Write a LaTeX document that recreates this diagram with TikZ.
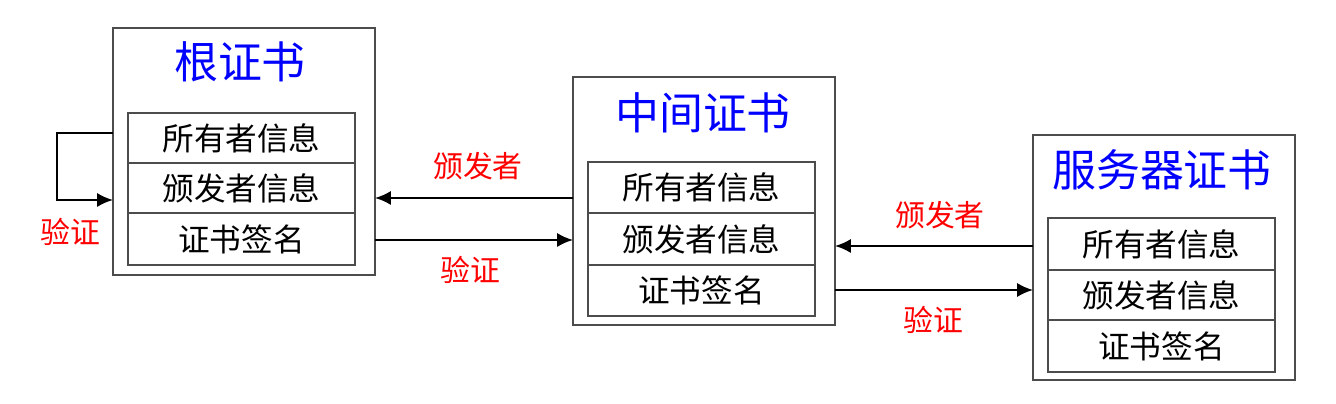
\documentclass[tikz,border=0pt]{standalone}
\usepackage{fontspec}
\setmainfont{Noto Sans CJK SC}
\usetikzlibrary{arrows.meta}
\begin{document}
\begin{tikzpicture}[x=0.02cm,y=-0.02cm,
  box/.style={draw=black!70,line width=1pt},
  row/.style={draw=black!70,line width=1pt,font=\fontsize{18}{20}\selectfont},
  ttl/.style={text=blue,font=\fontsize{25}{27}\selectfont},
  lbl/.style={text=red,font=\fontsize{17}{19}\selectfont},
  arr/.style={line width=1.2pt,-{Latex[length=9pt,width=8pt]}}]
\useasboundingbox (0,0) rectangle (1336,404);
% root
\draw[box] (113,28) rectangle (375,275);
\node[ttl] (t1) at (240,62) {根证书};
\draw[row] (128,113) rectangle (355,163) node[midway] (a1) {所有者信息};
\draw[row] (128,163) rectangle (355,213) node[midway] (a2) {颁发者信息};
\draw[row] (128,213) rectangle (355,265) node[midway] (a3) {证书签名};
% intermediate
\draw[box] (573,77) rectangle (835,325);
\node[ttl] (t2) at (703,113) {中间证书};
\draw[row] (588,162) rectangle (815,213) node[midway] (b1) {所有者信息};
\draw[row] (588,213) rectangle (815,265) node[midway] (b2) {颁发者信息};
\draw[row] (588,265) rectangle (815,316) node[midway] (b3) {证书签名};
% server
\draw[box] (1033,135) rectangle (1295,380);
\node[ttl] (t3) at (1162,170) {服务器证书};
\draw[row] (1048,218) rectangle (1275,270) node[midway] (c1) {所有者信息};
\draw[row] (1048,270) rectangle (1275,320) node[midway] (c2) {颁发者信息};
\draw[row] (1048,320) rectangle (1275,372) node[midway] (c3) {证书签名};
% coordinates
\coordinate (rL1) at (113,133); \coordinate (rL2) at (113,200);
\coordinate (rR1) at (375,198); \coordinate (rR2) at (375,240);
\coordinate (iL1) at (573,198); \coordinate (iL2) at (573,240);
\coordinate (iR1) at (835,246); \coordinate (iR2) at (835,290);
\coordinate (sL1) at (1033,246); \coordinate (sL2) at (1033,290);
\draw[arr] (iL1) -- (rR1);
\draw[arr] (rR2) -- (iL2);
\draw[arr] (sL1) -- (iR1);
\draw[arr] (iR2) -- (sL2);
\draw[arr] (rL1) -- (57,133) -- (57,200) -- (rL2);
\node[lbl] at (478,166) {颁发者};
\node[lbl] at (470,270) {验证};
\node[lbl] at (940,215) {颁发者};
\node[lbl] at (933,320) {验证};
\node[lbl] at (70,232) {验证};
\end{tikzpicture}
\end{document}
